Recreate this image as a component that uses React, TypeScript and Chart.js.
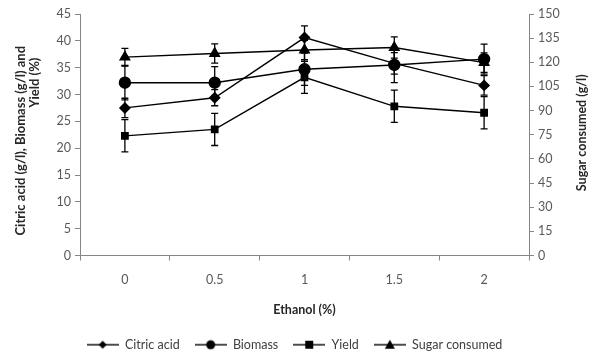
import React, { useEffect, useRef } from "react";
import { Chart, registerables } from "chart.js";

Chart.register(...registerables);

const categories = ["0", "0.5", "1", "1.5", "2"];
const citricAcid = [27.5, 29.4, 40.6, 35.8, 31.7];
const citricErr = [1.8, 1.5, 2.2, 2.0, 1.8];
const biomass = [32.2, 32.2, 34.7, 35.5, 36.6];
const biomassErr = [3.2, 3.0, 3.0, 3.3, 2.8];
const yieldVals = [22.3, 23.5, 33.2, 27.8, 26.6];
const yieldErr = [3.0, 3.0, 3.0, 3.0, 3.0];
const sugarConsumed = [123.2, 125.5, 127.6, 129.2, 119.8];
const sugarErr = [5.5, 6.0, 6.0, 6.6, 6.0];
const leftTicksMax = 45;
const rightTicksMax = 150;

const FONT = "Lato, 'Open Sans', sans-serif";

function makeLegendIcon(style: string): HTMLCanvasElement {
  const c = document.createElement("canvas");
  c.width = 32;
  c.height = 12;
  const ctx = c.getContext("2d")!;
  ctx.strokeStyle = "#000";
  ctx.fillStyle = "#000";
  ctx.lineWidth = 1.4;
  ctx.beginPath();
  ctx.moveTo(0, 6);
  ctx.lineTo(32, 6);
  ctx.stroke();
  const cx = 16, cy = 6;
  ctx.beginPath();
  if (style === "rectRot") {
    ctx.moveTo(cx, cy - 4);
    ctx.lineTo(cx + 4, cy);
    ctx.lineTo(cx, cy + 4);
    ctx.lineTo(cx - 4, cy);
    ctx.closePath();
  } else if (style === "circle") {
    ctx.arc(cx, cy, 4.5, 0, Math.PI * 2);
  } else if (style === "rect") {
    ctx.rect(cx - 4, cy - 4, 8, 8);
  } else {
    ctx.moveTo(cx, cy - 5);
    ctx.lineTo(cx + 5, cy + 4);
    ctx.lineTo(cx - 5, cy + 4);
    ctx.closePath();
  }
  ctx.fill();
  return c;
}

const errorBarPlugin = {
  id: "errorBars",
  beforeDatasetsDraw(chart: any) {
    const ctx = chart.ctx;
    ctx.save();
    ctx.strokeStyle = "#000";
    ctx.lineWidth = 1.3;
    chart.data.datasets.forEach((ds: any, i: number) => {
      const meta = chart.getDatasetMeta(i);
      const yScale = chart.scales[ds.yAxisID];
      meta.data.forEach((pt: any, j: number) => {
        const v = ds.data[j];
        const e = ds.errors[j];
        const x = pt.x;
        const yTop = yScale.getPixelForValue(v + e);
        const yBot = yScale.getPixelForValue(v - e);
        ctx.beginPath();
        ctx.moveTo(x, yTop);
        ctx.lineTo(x, yBot);
        ctx.moveTo(x - 3.5, yTop);
        ctx.lineTo(x + 3.5, yTop);
        ctx.moveTo(x - 3.5, yBot);
        ctx.lineTo(x + 3.5, yBot);
        ctx.stroke();
      });
    });
    ctx.restore();
  },
};

const titlesPlugin = {
  id: "axisTitles",
  afterDraw(chart: any) {
    const ctx = chart.ctx;
    const area = chart.chartArea;
    ctx.save();
    ctx.fillStyle = "#262626";
    ctx.textAlign = "center";
    ctx.textBaseline = "middle";
    const cy = (area.top + area.bottom) / 2;
    const drawRot = (text: string, x: number, y: number) => {
      ctx.save();
      ctx.translate(x, y);
      ctx.rotate(-Math.PI / 2);
      ctx.fillText(text, 0, 0);
      ctx.restore();
    };
    ctx.font = `bold 13px ${FONT}`;
    drawRot("Citric acid (g/l), Biomass (g/l) and", 21, cy + 6);
    drawRot("Yield (%)", 35, cy - 52);
    ctx.font = `bold 12.5px ${FONT}`;
    drawRot("Sugar consumed (g/l)", 582, cy - 2);
    ctx.restore();
  },
};

export default function App() {
  const ref = useRef<HTMLCanvasElement>(null);
  useEffect(() => {
    document.body.style.margin = "0";
    const icons = {
      rectRot: makeLegendIcon("rectRot"),
      circle: makeLegendIcon("circle"),
      rect: makeLegendIcon("rect"),
      triangle: makeLegendIcon("triangle"),
    };
    const common = {
      borderColor: "#000",
      backgroundColor: "#000",
      pointBackgroundColor: "#000",
      pointBorderColor: "#000",
      borderWidth: 1.4,
      tension: 0,
    };
    const chart = new Chart(ref.current!, {
      type: "line",
      data: {
        labels: categories,
        datasets: [
          { ...common, label: "Citric acid", data: citricAcid, errors: citricErr, yAxisID: "y", pointStyle: "rectRot", pointRadius: 5, legendIcon: icons.rectRot } as any,
          { ...common, label: "Biomass", data: biomass, errors: biomassErr, yAxisID: "y", pointStyle: "circle", pointRadius: 5.5, legendIcon: icons.circle } as any,
          { ...common, label: "Yield", data: yieldVals, errors: yieldErr, yAxisID: "y", pointStyle: "rect", pointRadius: 4.5, legendIcon: icons.rect } as any,
          { ...common, label: "Sugar consumed", data: sugarConsumed, errors: sugarErr, yAxisID: "y1", pointStyle: "triangle", pointRadius: 5.5, legendIcon: icons.triangle } as any,
        ],
      },
      options: {
        animation: false,
        responsive: true,
        maintainAspectRatio: false,
        layout: { padding: { top: 14, bottom: -3, left: 0, right: 0 } },
        plugins: {
          tooltip: { enabled: false },
          legend: {
            position: "bottom",
            labels: {
              usePointStyle: true,
              pointStyleWidth: 32,
              padding: 15,
              color: "#404040",
              font: { family: FONT, size: 12.5 },
              generateLabels(chart: any) {
                return chart.data.datasets.map((ds: any, i: number) => ({
                  text: ds.label,
                  fillStyle: "#000",
                  strokeStyle: "#000",
                  lineWidth: 0,
                  pointStyle: ds.legendIcon,
                  datasetIndex: i,
                  hidden: false,
                  fontColor: "#404040",
                }));
              },
            },
          },
        },
        scales: {
          x: {
            type: "category",
            offset: true,
            grid: { display: true, drawOnChartArea: false, offset: true, tickLength: 5, color: "#868686" },
            border: { color: "#868686" },
            ticks: { color: "#595959", font: { family: FONT, size: 12.5 }, padding: 12 },
            title: { display: true, text: "Ethanol (%)", color: "#262626", font: { family: FONT, size: 12.5, weight: "bold" }, padding: { top: 1, bottom: 6 } },
            afterFit(scale: any) { scale.height = 68; },
          },
          y: {
            position: "left",
            min: 0,
            max: leftTicksMax,
            ticks: { stepSize: 5, color: "#595959", font: { family: FONT, size: 12.5 }, padding: 4 },
            grid: { drawOnChartArea: false, tickLength: 5, color: "#868686" },
            border: { color: "#868686" },
            afterFit(scale: any) { scale.width = 80; },
          },
          y1: {
            position: "right",
            min: 0,
            max: rightTicksMax,
            ticks: { stepSize: 15, color: "#595959", font: { family: FONT, size: 12.5 }, padding: 4 },
            grid: { drawOnChartArea: false, tickLength: 5, color: "#868686" },
            border: { color: "#868686" },
            afterFit(scale: any) { scale.width = 60; },
          },
        },
      } as any,
      plugins: [errorBarPlugin, titlesPlugin],
    });
    return () => chart.destroy();
  }, []);
  return (
    <div style={{ width: 589, height: 358, position: "relative" }}>
      <canvas ref={ref} />
    </div>
  );
}
